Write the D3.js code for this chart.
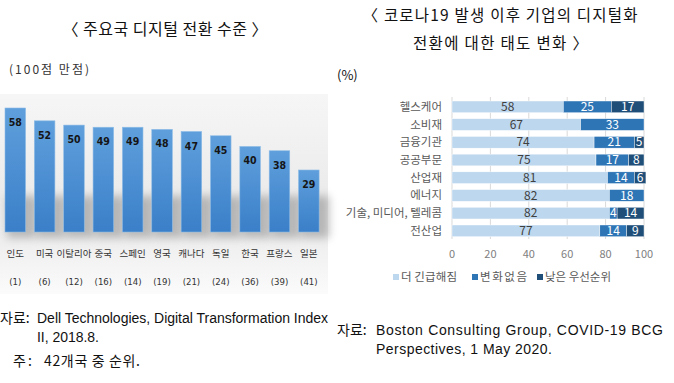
<!DOCTYPE html>
<html><head><meta charset="utf-8">
<script src="https://cdn.jsdelivr.net/npm/d3@7"></script>
<style>
html,body{margin:0;padding:0;background:#fff;}
svg{display:block;font-family:"Noto Sans CJK KR","Noto Sans",sans-serif;}
</style></head>
<body>
<svg id="c" width="674" height="383"></svg>
<script>
// ---- Left chart data ----
const countries = ["인도","미국","이탈리아","중국","스페인","영국","캐나다","독일","한국","프랑스","일본"];
const scores = [58,52,50,49,49,48,47,45,40,38,29];
const ranks = ["(1)","(6)","(12)","(16)","(14)","(19)","(21)","(24)","(36)","(39)","(41)"];

// ---- Right chart data ----
const sectors = ["헬스케어","소비재","금융기관","공공부문","산업재","에너지","기술, 미디어, 텔레콤","전산업"];
const moreUrgent = [58,67,74,75,81,82,82,77];
const noChange = [25,33,21,17,14,18,4,14];
const lowPriority = [17,0,5,8,6,0,14,9];
const seriesNames = ["더 긴급해짐","변화없음","낮은 우선순위"];
const xTicks = [0,20,40,60,80,100];

const svg = d3.select("#c");
const defs = svg.append("defs");

const pg = defs.append("linearGradient").attr("id","pg").attr("x1",0).attr("y1",0).attr("x2",0).attr("y2",1);
pg.append("stop").attr("offset","0%").attr("stop-color","#f6f6f6");
pg.append("stop").attr("offset","55%").attr("stop-color","#eaeaea");
pg.append("stop").attr("offset","75%").attr("stop-color","#efefef");
pg.append("stop").attr("offset","100%").attr("stop-color","#fbfbfb");
const bg = defs.append("linearGradient").attr("id","bg").attr("x1",0).attr("y1",0).attr("x2",0).attr("y2",1);
bg.append("stop").attr("offset","0%").attr("stop-color","#5f9fdc");
bg.append("stop").attr("offset","100%").attr("stop-color","#3a7fc8");
const blur = defs.append("filter").attr("id","bl").attr("x","-50%").attr("y","-50%").attr("width","200%").attr("height","200%");
blur.append("feGaussianBlur").attr("stdDeviation",4);

const cond = "'DejaVu Sans Condensed','Liberation Sans Narrow','Roboto Condensed',sans-serif";
const latin = "'Liberation Sans','Noto Sans CJK KR',sans-serif";

function fitText(x,y,str,size,len,opts={}){
  const t = svg.append("text").attr("x",x).attr("y",y).attr("font-size",size).attr("fill",opts.fill||"#111").text(str);
  if(opts.anchor) t.attr("text-anchor",opts.anchor);
  if(opts.family) t.style("font-family",opts.family);
  if(len) t.attr("textLength",len).attr("lengthAdjust","spacing");
  return t;
}

// ---- LEFT ----
fitText(165,35,"〈 주요국 디지털 전환 수준 〉",16,205,{anchor:"middle"});
fitText(9,74,"(100점 만점)",12,80,{fill:"#333"});

svg.append("rect").attr("x",0).attr("y",94).attr("width",328).attr("height",200).attr("fill","url(#pg)");

const xL = d3.scaleBand().domain(countries).range([0.6,323.5]).paddingInner(0.3).paddingOuter(0.15);
const yL = d3.scaleLinear().domain([0,58]).range([232,108]);

const gL = svg.append("g");
gL.selectAll("rect.sh").data(countries).join("rect").attr("class","sh")
  .attr("x",d=>xL(d)+2).attr("y",(d,i)=>Math.max(yL(scores[i])+10,196))
  .attr("width",xL.bandwidth()+8).attr("height",(d,i)=>238-Math.max(yL(scores[i])+10,196))
  .attr("fill","#8a8a8a").attr("opacity",0.55).attr("filter","url(#bl)");
gL.selectAll("rect.bar").data(countries).join("rect").attr("class","bar")
  .attr("x",d=>xL(d)).attr("y",(d,i)=>yL(scores[i]))
  .attr("width",xL.bandwidth()).attr("height",(d,i)=>yL(0)-yL(scores[i]))
  .attr("fill","url(#bg)").attr("stroke","#8cbbe6").attr("stroke-width",0.6);
gL.selectAll("text.val").data(countries).join("text").attr("class","val")
  .attr("x",d=>xL(d)+xL.bandwidth()/2).attr("y",(d,i)=>yL(scores[i])+18)
  .attr("text-anchor","middle").attr("font-size",10.5).attr("font-weight","bold")
  .style("font-family",cond)
  .attr("fill","#151515").text((d,i)=>scores[i]);
gL.selectAll("text.cn").data(countries).join("text").attr("class","cn")
  .attr("x",d=>xL(d)+xL.bandwidth()/2).attr("y",257)
  .attr("text-anchor","middle").attr("font-size",9.5).attr("fill","#333").text(d=>d);
gL.selectAll("text.rk").data(countries).join("text").attr("class","rk")
  .attr("x",d=>xL(d)+xL.bandwidth()/2).attr("y",285)
  .attr("text-anchor","middle").attr("font-size",9.5).attr("fill","#333")
  .style("font-family",cond)
  .text((d,i)=>ranks[i]);

const srcSize = 14;
fitText(0,323,"자료:",srcSize,null);
fitText(37,323,"Dell Technologies, Digital Transformation Index",srcSize,291,{family:latin});
fitText(37,342,"II, 2018.8.",srcSize,62,{family:latin});
fitText(13,366,"주",srcSize,null);
fitText(28,366,":",srcSize,null);
fitText(44,366,"42개국 중 순위.",srcSize,96);

// ---- RIGHT ----
fitText(500,21,"〈 코로나19 발생 이후 기업의 디지털화",15.5,275,{anchor:"middle"});
fitText(500.5,49,"전환에 대한 태도 변화 〉",15.5,175,{anchor:"middle"});
fitText(337,80,"(%)",13,null);

const xR = d3.scaleLinear().domain([0,100]).range([452,644]);
const yR = d3.scaleBand().domain(sectors).range([98,239.7]).paddingInner(0.34).paddingOuter(0.17);
const gR = svg.append("g");
gR.selectAll("line.grid").data(xTicks).join("line").attr("class","grid")
  .attr("x1",d=>xR(d)).attr("x2",d=>xR(d)).attr("y1",97).attr("y2",239)
  .attr("stroke","#d9d9d9").attr("stroke-width",1);

const colors = ["#bdd7ee","#2e75b6","#1f4e79"];
const rows = sectors.map((s,i)=>({s, v:[moreUrgent[i],noChange[i],lowPriority[i]]}));
rows.forEach(r=>{
  let acc = 0;
  r.v.forEach((v,k)=>{
    if(v<=0) return;
    const x0 = xR(acc), x1 = xR(acc+v);
    gR.append("rect").attr("x",x0).attr("y",yR(r.s)).attr("width",x1-x0).attr("height",yR.bandwidth())
      .attr("fill",colors[k]).attr("stroke","#ffffff").attr("stroke-width",0.4);
    gR.append("text").attr("x",(x0+x1)/2).attr("y",yR(r.s)+yR.bandwidth()/2+4.2)
      .attr("text-anchor","middle").attr("font-size",12)
      .attr("fill",k===0?"#404040":"#ffffff").text(v);
    acc += v;
  });
});
gR.selectAll("text.sec").data(sectors).join("text").attr("class","sec")
  .attr("x",442).attr("y",d=>yR(d)+yR.bandwidth()/2+4).attr("text-anchor","end")
  .attr("font-size",11.5).attr("fill","#595959").text(d=>d);
gR.selectAll("text.xt").data(xTicks).join("text").attr("class","xt")
  .attr("x",d=>xR(d)).attr("y",258).attr("text-anchor","middle")
  .attr("font-size",11).attr("fill","#808080").text(d=>d);

const legX = [393,472,537];
const legW = [56,47,66];
seriesNames.forEach((n,k)=>{
  svg.append("rect").attr("x",legX[k]).attr("y",274).attr("width",6).attr("height",6).attr("fill",colors[k]);
  svg.append("text").attr("x",legX[k]+8).attr("y",281).attr("font-size",11.5).attr("fill","#595959")
    .attr("textLength",legW[k]).attr("lengthAdjust","spacing").text(n);
});

fitText(337,335,"자료:",srcSize,null);
fitText(376,335,"Boston Consulting Group, COVID-19 BCG",srcSize,287,{family:latin});
fitText(376,354,"Perspectives, 1 May 2020.",srcSize,176,{family:latin});
</script>
</body></html>
